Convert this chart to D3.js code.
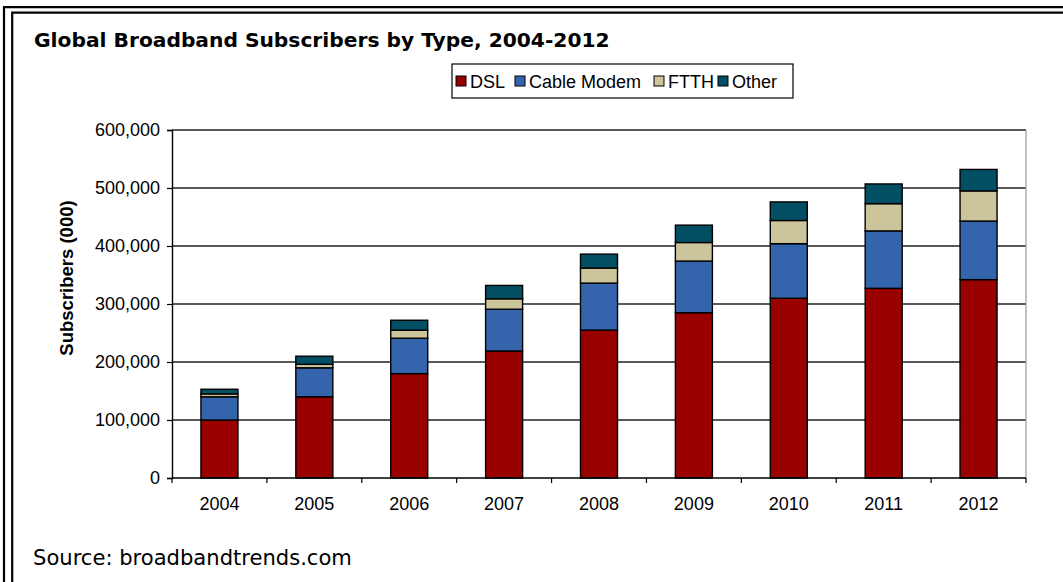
<!DOCTYPE html>
<html><head><meta charset="utf-8">
<script src="https://cdn.jsdelivr.net/npm/d3@7"></script>
<style>html,body{margin:0;padding:0;background:#fff;}svg{display:block;}</style>
</head><body>
<svg id="c" width="1063" height="582"></svg>
<script>
const years = ["2004","2005","2006","2007","2008","2009","2010","2011","2012"];
const seriesNames = ["DSL","Cable Modem","FTTH","Other"];
const dsl   = [100,140,180,219,255,285,310,327,342];
const cable = [ 40, 50, 61, 72, 81, 89, 94, 99,101];
const ftth  = [  5,  6, 14, 18, 26, 32, 40, 47, 52];
const other = [  8, 14, 17, 23, 24, 30, 32, 34, 37];
const colors = ["#990000","#3465ac","#ccc49a","#024f63"];
const yTicks = [0,100000,200000,300000,400000,500000,600000];

const FONT = "'Liberation Sans', Arial, sans-serif";
const svg = d3.select("#c");
const W=1063,H=582;
svg.append("rect").attr("width",W).attr("height",H).attr("fill","#fff");
// double frame (left & top)
svg.append("path").attr("d","M4,582 V7.2 H1063").attr("fill","none").attr("stroke","#000").attr("stroke-width",2.2);
svg.append("path").attr("d","M12.2,582 V12.7 H1063").attr("fill","none").attr("stroke","#000").attr("stroke-width",2.2);

const L=172,R=1026,T=130,B=478;
const x = d3.scaleBand().domain(years).range([L,R]).paddingInner(0.61).paddingOuter(0.305);
const xb = d3.scaleBand().domain(years).range([L,R]);
const y = d3.scaleLinear().domain([0,600000]).range([B,T]);

// grid
svg.append("g").selectAll("line").data(yTicks.filter(d=>d>0)).join("line")
  .attr("x1",L).attr("x2",R).attr("y1",d=>y(d)).attr("y2",d=>y(d))
  .attr("stroke","#222").attr("stroke-width",1.3);
svg.append("line").attr("x1",R).attr("x2",R).attr("y1",T).attr("y2",B).attr("stroke","#999").attr("stroke-width",1.2);

// stacked bars
const table = years.map((yr,i)=>({year:yr,"DSL":dsl[i]*1000,"Cable Modem":cable[i]*1000,"FTTH":ftth[i]*1000,"Other":other[i]*1000}));
const stack = d3.stack().keys(seriesNames)(table);
svg.append("g").selectAll("g").data(stack).join("g")
  .attr("fill",(d,i)=>colors[i])
  .selectAll("rect").data(d=>d).join("rect")
  .attr("x",d=>x(d.data.year)).attr("width",x.bandwidth())
  .attr("y",d=>y(d[1])).attr("height",d=>y(d[0])-y(d[1]))
  .attr("stroke","#000").attr("stroke-width",1.4);

// y axis
const ya = svg.append("g").attr("transform",`translate(${L},0)`)
  .call(d3.axisLeft(y).tickValues(yTicks).tickSize(5).tickPadding(7).tickFormat(d3.format(",")));
ya.select(".domain").attr("stroke","#000").attr("stroke-width",1.4);
ya.selectAll(".tick line").attr("stroke","#000").attr("stroke-width",1.2);
ya.selectAll("text").attr("font-family",FONT).attr("font-size",18).attr("fill","#000");

// x axis with boundary ticks
const xa = svg.append("g").attr("transform",`translate(0,${B})`);
xa.append("line").attr("x1",L).attr("x2",R).attr("stroke","#000").attr("stroke-width",1.4);
const bounds = years.map(d=>xb(d)).concat([R]);
xa.selectAll("line.t").data(bounds).join("line").attr("class","t")
  .attr("x1",d=>d).attr("x2",d=>d).attr("y1",0).attr("y2",5).attr("stroke","#000").attr("stroke-width",1.2);
xa.selectAll("text").data(years).join("text")
  .attr("x",d=>xb(d)+xb.bandwidth()/2).attr("y",32).attr("text-anchor","middle")
  .attr("font-family",FONT).attr("font-size",18).text(d=>d);

// y title
svg.append("text").attr("transform","translate(73,278) rotate(-90)").attr("text-anchor","middle")
  .attr("font-family",FONT).attr("font-weight","bold").attr("font-size",18.5)
  .text("Subscribers (000)");

// title: fit so that "Global Broadband Subscribers b" spans ~367px
const title = svg.append("text").attr("x",34).attr("y",47).attr("font-family","'DejaVu Sans', sans-serif")
  .attr("font-weight","bold").attr("font-size",20).text("Global Broadband Subscribers by Type, 2004-2012");
{
  const n = title.node();
  const part = n.getSubStringLength(0, "Global Broadband Subscribers b".length);
  title.attr("font-size", 20*367/part);
}
const src = svg.append("text").attr("x",33).attr("y",565).attr("font-family","'DejaVu Sans', sans-serif")
  .attr("font-size",18).text("Source: broadbandtrends.com");
src.attr("font-size", 18*319/src.node().getComputedTextLength());

// legend
const lg = svg.append("g");
lg.append("rect").attr("x",452).attr("y",64).attr("width",341).attr("height",34).attr("fill","#fff").attr("stroke","#000").attr("stroke-width",1.2);
const lx=[456,515,654,718];
seriesNames.forEach((s,i)=>{
  lg.append("rect").attr("x",lx[i]).attr("y",76).attr("width",10).attr("height",10).attr("fill",colors[i]).attr("stroke","#000").attr("stroke-width",1);
  lg.append("text").attr("x",lx[i]+14).attr("y",87.5).attr("font-family",FONT).attr("font-size",18).text(s);
});
</script>
</body></html>
